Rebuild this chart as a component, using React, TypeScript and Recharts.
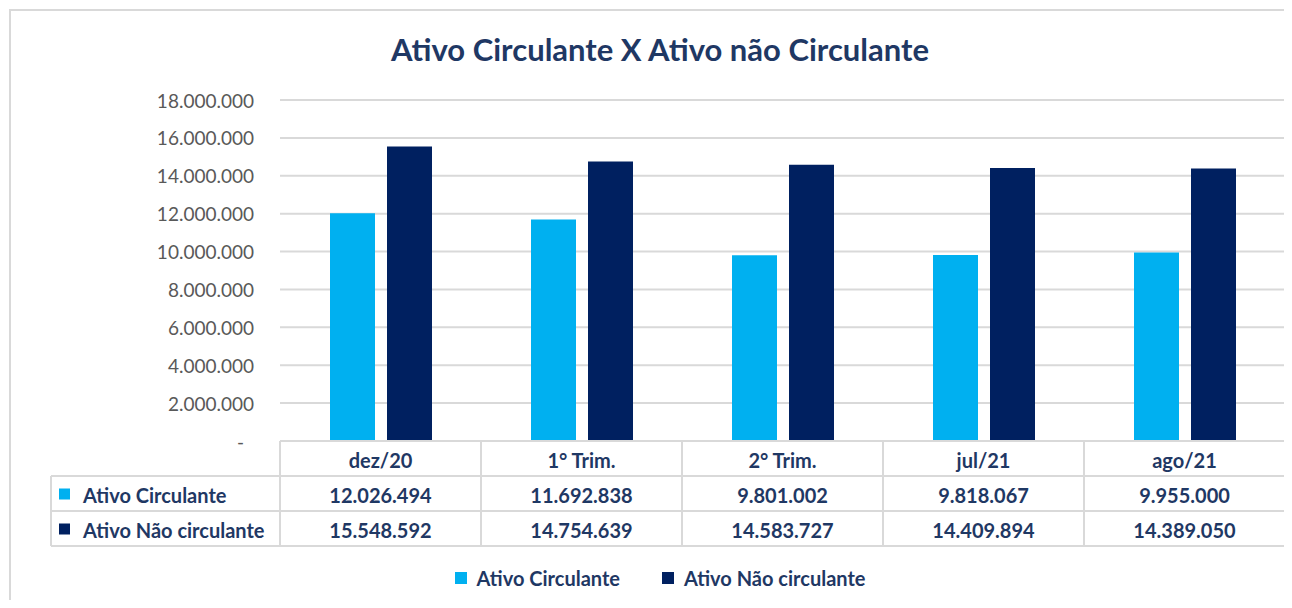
import React from 'react';
import { BarChart, Bar, XAxis, YAxis, CartesianGrid } from 'recharts';

// Ativo Circulante x Ativo não Circulante (valores em R$)
const categories = ['dez/20', '1° Trim.', '2° Trim.', 'jul/21', 'ago/21'];
const ativoCirculante = [12026494, 11692838, 9801002, 9818067, 9955000];
const ativoNaoCirculante = [15548592, 14754639, 14583727, 14409894, 14389050];
const yTicks = [0, 2000000, 4000000, 6000000, 8000000, 10000000, 12000000, 14000000, 16000000, 18000000];

const seriesNames = ['Ativo Circulante', 'Ativo Não circulante'];
const seriesColors = ['#00B0F0', '#002060'];

const data = categories.map((name, i) => ({
  name,
  circ: ativoCirculante[i],
  naoCirc: ativoNaoCirculante[i],
}));

const FONT = 'Lato, "Open Sans", sans-serif';
const TEXT = '#1F3864';
const LINE = '#D9D9D9';

const W = 1292;
const H = 608;
const PLOT_LEFT = 280;
const PLOT_RIGHT = 1285;
const PLOT_TOP = 100;
const PLOT_BOTTOM = 441;
const ROW_H = 35;
const TABLE_LEFT = 51;
const CELL_W = (PLOT_RIGHT - PLOT_LEFT) / categories.length;

const fmt = (n: number) => String(n).replace(/\B(?=(\d{3})+(?!\d))/g, '.');

const YTick = (props: any) => {
  const { x, y, payload } = props;
  const v = payload.value as number;
  return (
    <text
      x={v === 0 ? x - 10 : x}
      y={y}
      textAnchor="end"
      dominantBaseline="central"
      fill="#595959"
      fontSize={19}
      fontFamily={FONT}
    >
      {v === 0 ? '-' : fmt(v)}
    </text>
  );
};

// Excel-style data table drawn under each category
const TableTick = (props: any) => {
  const { x, y, payload } = props;
  const i = payload.index ?? props.index ?? 0;
  const l = x - CELL_W / 2;
  const r = x + CELL_W / 2;
  const rows = [payload.value, fmt(ativoCirculante[i]), fmt(ativoNaoCirculante[i])];
  return (
    <g>
      {[0, 1, 2, 3].map((k) => (
        <line key={'h' + k} x1={l} x2={r} y1={y + k * ROW_H} y2={y + k * ROW_H} stroke={LINE} strokeWidth={2} />
      ))}
      <line x1={l} x2={l} y1={y} y2={y + 3 * ROW_H} stroke={LINE} strokeWidth={2} />
      <line x1={r} x2={r} y1={y} y2={y + 3 * ROW_H} stroke={LINE} strokeWidth={2} />
      {rows.map((t, k) => (
        <text
          key={'t' + k}
          x={x}
          y={y + k * ROW_H + ROW_H / 2 + 1}
          textAnchor="middle"
          dominantBaseline="central"
          fill={TEXT}
          fontSize={20}
          fontWeight={700}
          fontFamily={FONT}
        >
          {t}
        </text>
      ))}
      {i === 0 && (
        <g>
          {[1, 2, 3].map((k) => (
            <line key={'lh' + k} x1={TABLE_LEFT} x2={l} y1={y + k * ROW_H} y2={y + k * ROW_H} stroke={LINE} strokeWidth={2} />
          ))}
          <line x1={TABLE_LEFT} x2={TABLE_LEFT} y1={y + ROW_H} y2={y + 3 * ROW_H} stroke={LINE} strokeWidth={2} />
          {seriesNames.map((s, k) => (
            <g key={s}>
              <rect x={TABLE_LEFT + 8} y={y + (k + 1) * ROW_H + ROW_H / 2 - 5} width={11} height={11} fill={seriesColors[k]} />
              <text
                x={TABLE_LEFT + 32}
                y={y + (k + 1) * ROW_H + ROW_H / 2 + 1}
                dominantBaseline="central"
                fill={TEXT}
                fontSize={20}
                fontWeight={700}
                fontFamily={FONT}
              >
                {s}
              </text>
            </g>
          ))}
        </g>
      )}
    </g>
  );
};

export default function App() {
  return (
    <div style={{ position: 'relative', width: W, height: H, margin: -8, overflow: 'hidden', background: '#fff' }}>
      <div
        style={{
          position: 'absolute',
          left: 9,
          top: 9,
          width: W + 20,
          height: H + 20,
          border: `2px solid ${LINE}`,
        }}
      />
      <div
        style={{
          position: 'absolute',
          left: 0,
          width: W,
          top: 30,
          textAlign: 'center',
          paddingLeft: 28,
          boxSizing: 'border-box',
          fontFamily: FONT,
          fontWeight: 700,
          fontSize: 31,
          color: TEXT,
        }}
      >
        Ativo Circulante X Ativo não Circulante
      </div>
      <div style={{ position: 'absolute', left: 0, top: 0 }}>
        <BarChart
          width={W}
          height={H}
          data={data}
          margin={{ top: PLOT_TOP, right: W - PLOT_RIGHT, bottom: 0, left: 0 }}
          barGap={12}
          barSize={45}
        >
          <CartesianGrid vertical={false} stroke={LINE} strokeWidth={2} />
          <XAxis
            dataKey="name"
            axisLine={false}
            tickLine={false}
            tickSize={0}
            tickMargin={0}
            height={H - PLOT_BOTTOM}
            interval={0}
            tick={<TableTick />}
          />
          <YAxis
            width={PLOT_LEFT}
            domain={[0, 18000000]}
            ticks={yTicks}
            axisLine={false}
            tickLine={false}
            tickSize={0}
            tickMargin={26}
            tick={<YTick />}
          />
          <Bar dataKey="circ" name={seriesNames[0]} fill={seriesColors[0]} isAnimationActive={false} />
          <Bar dataKey="naoCirc" name={seriesNames[1]} fill={seriesColors[1]} isAnimationActive={false} />
        </BarChart>
      </div>
      <div
        style={{
          position: 'absolute',
          top: 566,
          left: 0,
          width: W,
          paddingLeft: 28,
          boxSizing: 'border-box',
          display: 'flex',
          justifyContent: 'center',
          gap: 42,
          fontFamily: FONT,
        }}
      >
        {seriesNames.map((s, k) => (
          <div key={s} style={{ display: 'flex', alignItems: 'center', gap: 10 }}>
            <span style={{ width: 12, height: 12, background: seriesColors[k], display: 'inline-block' }} />
            <span style={{ color: TEXT, fontSize: 20, fontWeight: 700 }}>{s}</span>
          </div>
        ))}
      </div>
    </div>
  );
}
